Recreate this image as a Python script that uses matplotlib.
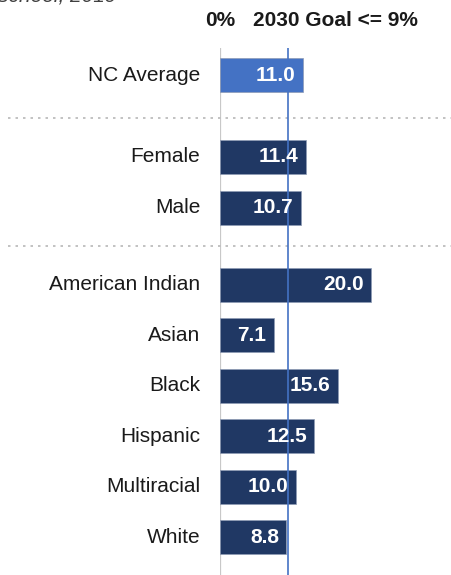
import matplotlib.pyplot as plt
from matplotlib.transforms import blended_transform_factory

# datos
categorias = ['NC Average', 'Female', 'Male', 'American Indian', 'Asian',
              'Black', 'Hispanic', 'Multiracial', 'White']
valores = [11.0, 11.4, 10.7, 20.0, 7.1, 15.6, 12.5, 10.0, 8.8]
meta = 9

# posiciones de las filas (con huecos entre grupos)
posiciones = [0, 1.62, 2.63, 4.15, 5.15, 6.15, 7.15, 8.15, 9.15]
separadores = [0.85, 3.39]

plt.rcParams['font.family'] = ['Liberation Sans', 'DejaVu Sans']

fig = plt.figure(figsize=(4.52, 5.75), dpi=100)
ax = fig.add_axes([220 / 452, 0, 232 / 452, 527 / 575])

colores = ['#4472C4'] + ['#203864'] * (len(valores) - 1)
ax.barh(posiciones, valores, height=0.67, color=colores,
        edgecolor='#8e9bb5', linewidth=0.5, zorder=2)

# etiquetas de valor dentro de las barras
for y, v in zip(posiciones, valores):
    ax.text(v - 1.0, y, f'{v:.1f}', ha='right', va='center', color='white',
            fontsize=15, fontweight='bold', zorder=4)

# etiquetas de categoria
for y, c in zip(posiciones, categorias):
    ax.text(-2.6, y, c, ha='right', va='center', color='#1a1a1a',
            fontsize=15, clip_on=False)

# linea de cero y meta
ax.axvline(0, color='#c8c8c8', linewidth=1.6, zorder=1)
ax.axvline(meta, color='#4472C4', linewidth=1.2, zorder=3)

# separadores punteados a lo ancho de la figura
trans = blended_transform_factory(fig.transFigure, ax.transData)
for s in separadores:
    ax.plot([8 / 452, 1], [s, s], transform=trans, color='#b8b8b8',
            linestyle=(0, (1.5, 3)), linewidth=1.2, clip_on=False)

ax.set_xlim(0, 232 / 7.556)
ax.set_ylim(9.9, -0.535)
ax.axis('off')

# encabezados
fig.text(220 / 452, 1 - 21 / 575, '0%', ha='center', va='center',
         fontsize=15, fontweight='bold', color='#1a1a1a')
fig.text(335 / 452, 1 - 21 / 575, '2030 Goal <= 9%', ha='center', va='center',
         fontsize=15, fontweight='bold', color='#1a1a1a')

# titulo recortado arriba
fig.text(117 / 452, 1 - 2 / 575, 'school, 2019', ha='right', va='baseline',
         fontsize=15, style='italic', color='#404040')

fig.savefig('out.png', dpi=100)
